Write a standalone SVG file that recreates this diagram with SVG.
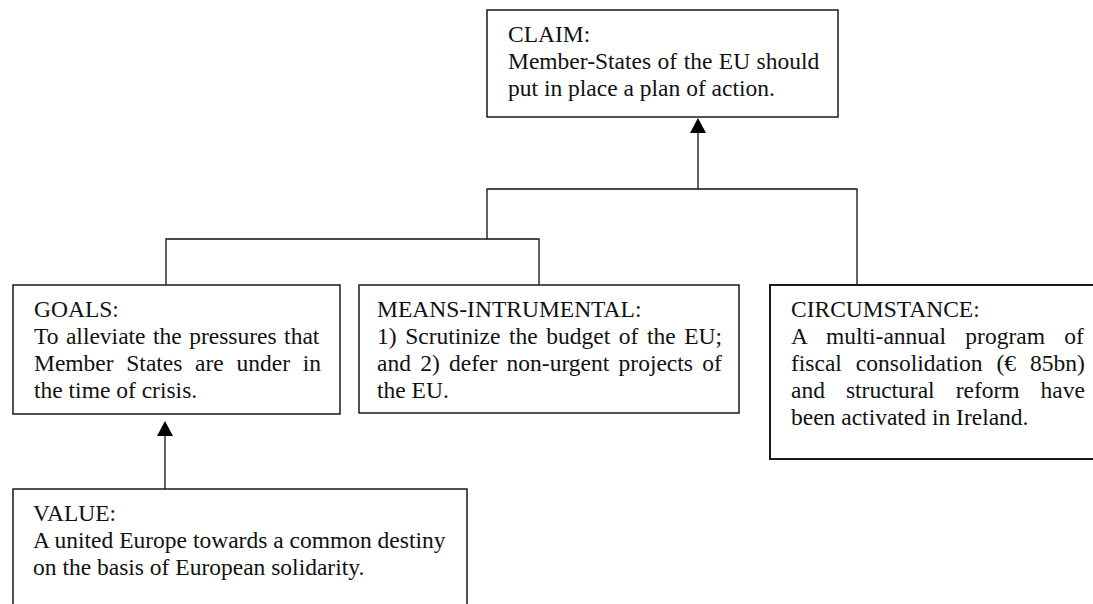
<svg xmlns="http://www.w3.org/2000/svg" width="1093" height="604" viewBox="0 0 1093 604">
  <style>
    .box { fill: #ffffff; stroke: #1a1a1a; stroke-width: 1.5; }
    .heavy { stroke-width: 2; }
    .txt { font-family: "Liberation Serif", "Times New Roman", serif; font-size: 23.5px; fill: #111111; }
    .wire { fill: none; stroke: #111111; stroke-width: 1.3; }
  </style>
  <defs>
    <marker id="arrowhead" markerUnits="userSpaceOnUse" markerWidth="16" markerHeight="16" viewBox="0 0 16 16" refX="8" refY="0" orient="auto-start-reverse">
      <polygon points="0,0 16,0 8,15" fill="#000000" transform="rotate(180 8 7.5)"/>
    </marker>
  </defs>
  <rect width="1093" height="604" fill="#ffffff"/>

  <!-- connectors -->
  <g id="connectors">
    <path class="wire" d="M698 189 V133"/>
    <polygon points="698,118 690,133 706,133" fill="#000000"/>
    <path class="wire" d="M487 239 V189 H857 V285"/>
    <path class="wire" d="M166 285 V239 H539 V285"/>
    <path class="wire" d="M165 489 V436"/>
    <polygon points="165,421 157,436 173,436" fill="#000000"/>
  </g>

  <!-- claim -->
  <g id="claim">
    <rect class="box" x="487" y="10" width="351" height="107"/>
    <text class="txt" x="508" y="42">CLAIM:</text>
    <text class="txt" x="508" y="69" style="word-spacing:0.6px">Member-States of the EU should</text>
    <text class="txt" x="508" y="96">put in place a plan of action.</text>
  </g>

  <!-- goals -->
  <g id="goals">
    <rect class="box" x="13" y="285" width="327" height="129"/>
    <text class="txt" x="34" y="317">GOALS:</text>
    <text class="txt" x="34" y="344" style="word-spacing:1.6px">To alleviate the pressures that</text>
    <text class="txt" x="34" y="371" style="word-spacing:6.8px">Member States are under in</text>
    <text class="txt" x="34" y="398">the time of crisis.</text>
  </g>

  <!-- means -->
  <g id="means">
    <rect class="box" x="359" y="285" width="380" height="128"/>
    <text class="txt" x="377" y="317">MEANS-INTRUMENTAL:</text>
    <text class="txt" x="377" y="344" style="word-spacing:2.7px">1) Scrutinize the budget of the EU;</text>
    <text class="txt" x="377" y="371" style="word-spacing:3.4px">and 2) defer non-urgent projects of</text>
    <text class="txt" x="377" y="398">the EU.</text>
  </g>

  <!-- circumstance -->
  <g id="circumstance">
    <rect class="box heavy" x="770" y="285" width="340" height="174"/>
    <text class="txt" x="791" y="317">CIRCUMSTANCE:</text>
    <text class="txt" x="791" y="344" style="word-spacing:13.4px">A multi-annual program of</text>
    <text class="txt" x="791" y="371" style="word-spacing:8.1px">fiscal consolidation (€ 85bn)</text>
    <text class="txt" x="791" y="398" style="word-spacing:15.1px">and structural reform have</text>
    <text class="txt" x="791" y="425">been activated in Ireland.</text>
  </g>

  <!-- value -->
  <g id="value">
    <rect class="box" x="13" y="489" width="454" height="140"/>
    <text class="txt" x="33" y="521">VALUE:</text>
    <text class="txt" x="33" y="548">A united Europe towards a common destiny</text>
    <text class="txt" x="33" y="575">on the basis of European solidarity.</text>
  </g>
</svg>
